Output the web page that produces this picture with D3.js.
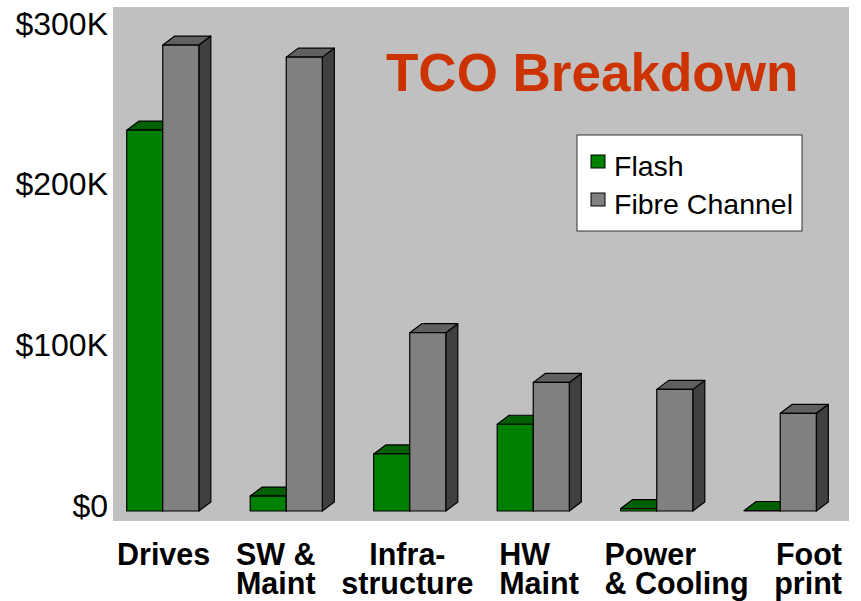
<!DOCTYPE html>
<html>
<head>
<meta charset="utf-8">
<script src="https://cdn.jsdelivr.net/npm/d3@7"></script>
<style>
  body { margin: 0; background: #fff; }
  svg { display: block; }
</style>
</head>
<body>
<div id="chart"></div>
<script>
// data ($K)
var categories  = ['Drives', 'SW & Maint', 'Infrastructure', 'HW Maint', 'Power & Cooling', 'Footprint'];
var labelLines  = [['Drives'], ['SW &', 'Maint'], ['Infra-', 'structure'], ['HW', 'Maint'], ['Power', '& Cooling'], ['Foot', 'print']];
var seriesNames = ['Flash', 'Fibre Channel'];
var flashValues = [237, 9.3, 35.5, 54, 1.5, 0.3];
var fibreValues = [290, 282.5, 111, 80, 75.7, 60.8];
var yTickValues = [0, 100, 200, 300];
var chartTitle  = 'TCO Breakdown';

(function() {
  'use strict';

  var width = 861, height = 601;
  var font = '"Liberation Sans", Arial, Helvetica, sans-serif';
  var depth = {dx: 12, dy: 9};
  var labelAlign = ['middle', 'start', 'middle', 'start', 'start', 'end'];

  var colors = [
    {front: '#008000', top: '#006000', side: '#004000'},
    {front: '#808080', top: '#606060', side: '#404040'}
  ];

  var svg = d3.select('#chart')
    .append('svg')
      .attr('width', width)
      .attr('height', height)
      .attr('viewBox', '0 0 ' + width + ' ' + height);

  svg.append('rect')
    .attr('width', width).attr('height', height)
    .attr('fill', '#fff');

  // plot background
  svg.append('rect')
    .attr('x', 113).attr('y', 7)
    .attr('width', 736).attr('height', 514)
    .attr('fill', '#c0c0c0');

  var x = d3.scaleBand()
    .domain(categories)
    .range([102, 841])
    .paddingInner(0.416)
    .paddingOuter(0.2);

  var xs = d3.scaleBand()
    .domain(seriesNames)
    .range([0, x.bandwidth()]);

  var y = d3.scaleLinear()
    .domain([0, 300])
    .range([511, 29]);

  // y axis
  var yAxis = d3.axisLeft(y)
    .tickValues(yTickValues)
    .tickSize(0)
    .tickPadding(0)
    .tickFormat(function(d) { return d === 0 ? '$0' : '$' + d + 'K'; });

  var yg = svg.append('g')
    .attr('transform', 'translate(108,-5)')
    .call(yAxis);
  yg.select('.domain').remove();
  yg.selectAll('text')
    .attr('font-family', font)
    .attr('font-size', 32)
    .attr('fill', '#000');

  // 3d bars
  var data = categories.map(function(c, i) {
    return {cat: c, values: [flashValues[i], fibreValues[i]]};
  });

  var dx = depth.dx, dy = depth.dy, y0 = y(0);

  var group = svg.selectAll('.grp')
    .data(data)
    .enter().append('g')
      .attr('class', 'grp');

  var bar = group.selectAll('.bar')
    .data(function(d) {
      return d.values.map(function(v, j) { return {cat: d.cat, s: j, v: v}; });
    })
    .enter().append('g')
      .attr('class', 'bar');

  function pts(a) { return a.map(function(p) { return p.join(','); }).join(' '); }

  bar.each(function(d) {
    var g = d3.select(this);
    var x0 = x(d.cat) + xs(seriesNames[d.s]), w = xs.bandwidth(), yt = y(d.v);
    var c = colors[d.s];

    g.append('polygon')
      .attr('points', pts([[x0 + w, yt], [x0 + w + dx, yt - dy], [x0 + w + dx, y0 - dy], [x0 + w, y0]]))
      .attr('fill', c.side);
    g.append('polygon')
      .attr('points', pts([[x0, yt], [x0 + dx, yt - dy], [x0 + w + dx, yt - dy], [x0 + w, yt]]))
      .attr('fill', c.top);
    g.append('rect')
      .attr('x', x0).attr('y', yt)
      .attr('width', w).attr('height', y0 - yt)
      .attr('fill', c.front);
  });

  bar.selectAll('polygon, rect')
    .attr('stroke', '#000')
    .attr('stroke-width', 1.2)
    .attr('stroke-linejoin', 'round');

  // title
  svg.append('text')
    .attr('x', 386).attr('y', 91)
    .attr('font-family', font)
    .attr('font-size', 53)
    .attr('font-weight', 'bold')
    .attr('fill', '#cc3300')
    .text(chartTitle);

  // legend
  var legend = svg.append('g').attr('transform', 'translate(577,135)');
  legend.append('rect')
    .attr('width', 225).attr('height', 96)
    .attr('fill', '#fff')
    .attr('stroke', '#333')
    .attr('stroke-width', 1);

  var item = legend.selectAll('.item')
    .data(seriesNames)
    .enter().append('g')
      .attr('class', 'item')
      .attr('transform', function(d, i) { return 'translate(0,' + (i * 38) + ')'; });

  item.append('rect')
    .attr('x', 14).attr('y', 20)
    .attr('width', 14).attr('height', 13)
    .attr('fill', function(d, i) { return colors[i].front; })
    .attr('stroke', '#000')
    .attr('stroke-width', 1);

  item.append('text')
    .attr('x', 37).attr('y', 41)
    .attr('font-family', font)
    .attr('font-size', 28.5)
    .attr('fill', '#000')
    .text(function(d) { return d; });

  // category labels, spread across the width
  var labels = svg.selectAll('.cat-label')
    .data(labelLines)
    .enter().append('text')
      .attr('class', 'cat-label')
      .attr('font-family', font)
      .attr('font-size', 30.5)
      .attr('font-weight', 'bold')
      .attr('fill', '#000');

  labels.selectAll('tspan')
    .data(function(d) { return d; })
    .enter().append('tspan')
      .attr('y', function(d, i) { return 565 + i * 29; })
      .text(function(d) { return d; });

  var widths = [];
  labels.each(function() {
    var wmax = 0;
    d3.select(this).selectAll('tspan').each(function() {
      wmax = Math.max(wmax, this.getComputedTextLength());
    });
    widths.push(wmax);
  });

  var left = 117, right = 842;
  var gap = (right - left - d3.sum(widths)) / (widths.length - 1);
  var cur = left;
  labels.each(function(d, i) {
    var a = labelAlign[i], w = widths[i];
    var lx = a === 'start' ? cur : (a === 'end' ? cur + w : cur + w / 2);
    d3.select(this)
      .attr('text-anchor', a)
      .selectAll('tspan').attr('x', lx);
    cur += w + gap;
  });

})();
</script>
</body>
</html>
